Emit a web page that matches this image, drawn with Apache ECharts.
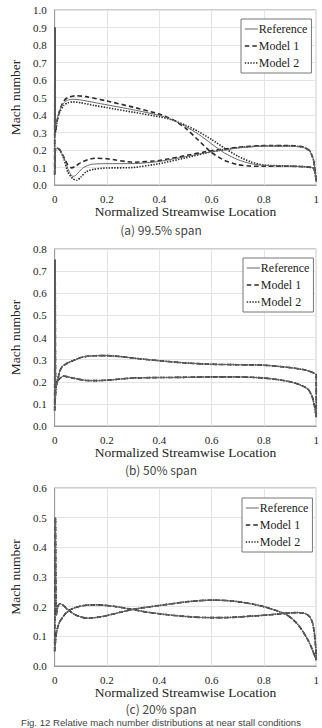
<!DOCTYPE html>
<html>
<head>
<meta charset="utf-8">
<script src="https://cdn.jsdelivr.net/npm/echarts@6/dist/echarts.min.js"></script>
<style>
html,body{margin:0;padding:0;background:#fff;}
#chart{width:322px;height:728px;}
</style>
</head>
<body>
<div id="chart"></div>
<script>
// ---------- DATA ----------
const seriesNames = ['Reference', 'Model 1', 'Model 2'];
const xTicks = [0, 0.2, 0.4, 0.6, 0.8, 1];
const captions = ['(a) 99.5% span', '(b) 50% span', '(c) 20% span'];
const figCaption = 'Fig. 12 Relative mach number distributions at near stall conditions';
const yMax = [1.0, 0.8, 0.6];

// (a) 99.5% span : suction side (LE -> TE) and pressure side (LE -> TE)
const a_ref_suction = [[0,0.06],[0.001,0.9],[0.003,0.32],[0.01,0.38],[0.02,0.43],[0.035,0.47],[0.05,0.485],[0.07,0.49],[0.1,0.486],[0.15,0.472],[0.2,0.458],[0.3,0.43],[0.4,0.398],[0.45,0.372],[0.5,0.335],[0.55,0.29],[0.6,0.235],[0.65,0.182],[0.7,0.145],[0.75,0.122],[0.8,0.112],[0.9,0.108],[0.95,0.105],[0.99,0.095],[1,0.02]];
const a_ref_pressure = [[0,0.06],[0.003,0.2],[0.01,0.21],[0.02,0.2],[0.035,0.16],[0.05,0.095],[0.065,0.052],[0.075,0.05],[0.09,0.07],[0.11,0.1],[0.14,0.118],[0.2,0.122],[0.3,0.122],[0.4,0.135],[0.5,0.162],[0.6,0.19],[0.65,0.2],[0.7,0.212],[0.8,0.222],[0.9,0.222],[0.95,0.215],[0.975,0.195],[0.99,0.14],[1,0.02]];
const a_m1_suction = [[0,0.06],[0.001,0.9],[0.003,0.3],[0.01,0.37],[0.02,0.43],[0.035,0.48],[0.05,0.5],[0.08,0.51],[0.12,0.505],[0.2,0.48],[0.3,0.445],[0.4,0.405],[0.45,0.375],[0.5,0.325],[0.55,0.255],[0.6,0.185],[0.65,0.14],[0.7,0.116],[0.75,0.108],[0.8,0.107],[0.9,0.107],[0.95,0.105],[0.99,0.095],[1,0.02]];
const a_m1_pressure = [[0,0.06],[0.003,0.2],[0.01,0.21],[0.02,0.2],[0.035,0.16],[0.05,0.115],[0.065,0.098],[0.08,0.108],[0.1,0.128],[0.13,0.147],[0.16,0.153],[0.2,0.15],[0.3,0.13],[0.4,0.14],[0.5,0.168],[0.6,0.196],[0.7,0.215],[0.8,0.225],[0.9,0.225],[0.95,0.217],[0.975,0.195],[0.99,0.14],[1,0.02]];
const a_m2_suction = [[0,0.06],[0.001,0.9],[0.003,0.3],[0.01,0.37],[0.02,0.42],[0.035,0.455],[0.05,0.47],[0.07,0.475],[0.1,0.47],[0.15,0.455],[0.2,0.442],[0.3,0.416],[0.4,0.39],[0.45,0.372],[0.5,0.342],[0.55,0.305],[0.6,0.26],[0.65,0.21],[0.7,0.165],[0.75,0.132],[0.8,0.114],[0.9,0.108],[0.95,0.105],[0.99,0.095],[1,0.02]];
const a_m2_pressure = [[0,0.06],[0.003,0.2],[0.01,0.21],[0.02,0.2],[0.035,0.15],[0.05,0.075],[0.07,0.035],[0.085,0.027],[0.1,0.045],[0.12,0.075],[0.15,0.09],[0.2,0.097],[0.3,0.1],[0.4,0.122],[0.5,0.155],[0.6,0.19],[0.7,0.213],[0.8,0.224],[0.9,0.224],[0.95,0.216],[0.975,0.195],[0.99,0.14],[1,0.02]];

// (b) 50% span (all three nearly coincide)
const b_suction = [[0,0.07],[0.002,0.75],[0.004,0.18],[0.01,0.2],[0.02,0.25],[0.03,0.27],[0.05,0.285],[0.08,0.3],[0.1,0.31],[0.14,0.317],[0.2,0.318],[0.25,0.314],[0.3,0.307],[0.4,0.295],[0.5,0.285],[0.6,0.279],[0.7,0.277],[0.8,0.275],[0.85,0.27],[0.9,0.264],[0.95,0.255],[0.98,0.245],[1,0.23]];
const b_pressure = [[0,0.07],[0.005,0.17],[0.01,0.2],[0.02,0.215],[0.035,0.226],[0.05,0.222],[0.08,0.214],[0.12,0.206],[0.16,0.205],[0.2,0.207],[0.3,0.217],[0.4,0.219],[0.5,0.22],[0.6,0.222],[0.7,0.222],[0.8,0.217],[0.85,0.21],[0.9,0.2],[0.94,0.185],[0.97,0.165],[0.985,0.13],[0.995,0.08],[1,0.04]];

// (c) 20% span (all three nearly coincide)
const c_sideA = [[0,0.05],[0.003,0.5],[0.006,0.17],[0.012,0.2],[0.02,0.21],[0.03,0.207],[0.05,0.19],[0.08,0.172],[0.11,0.163],[0.13,0.161],[0.17,0.165],[0.2,0.17],[0.25,0.181],[0.3,0.191],[0.35,0.198],[0.4,0.204],[0.45,0.21],[0.5,0.216],[0.55,0.22],[0.6,0.222],[0.65,0.221],[0.7,0.217],[0.75,0.21],[0.8,0.2],[0.85,0.186],[0.88,0.176],[0.9,0.165],[0.93,0.14],[0.95,0.115],[0.97,0.085],[0.985,0.055],[1,0.02]];
const c_sideB = [[0,0.05],[0.005,0.1],[0.01,0.125],[0.02,0.15],[0.04,0.175],[0.06,0.19],[0.09,0.2],[0.12,0.205],[0.16,0.206],[0.2,0.204],[0.25,0.198],[0.3,0.19],[0.35,0.182],[0.4,0.176],[0.45,0.171],[0.5,0.167],[0.55,0.164],[0.6,0.163],[0.65,0.163],[0.7,0.165],[0.75,0.168],[0.8,0.171],[0.85,0.175],[0.9,0.179],[0.93,0.18],[0.96,0.176],[0.975,0.166],[0.985,0.148],[0.993,0.11],[1,0.03]];

// ---------- BUILD ----------
function loop(upper, lower) { return upper.concat(lower.slice().reverse()); }
const curves = [
  [loop(a_ref_suction, a_ref_pressure), loop(a_m1_suction, a_m1_pressure), loop(a_m2_suction, a_m2_pressure)],
  [loop(b_suction, b_pressure), loop(b_suction, b_pressure), loop(b_suction, b_pressure)],
  [loop(c_sideA, c_sideB), loop(c_sideA, c_sideB), loop(c_sideA, c_sideB)]
];

const serif = 'Liberation Serif';
const grids = [
  {left: 37, top: 10, width: 281, height: 175},
  {left: 39, top: 249, width: 281, height: 177},
  {left: 38, top: 488, width: 281, height: 178}
];
const lineStyles = [
  {color: '#666', width: 1, type: 'solid'},
  {color: '#2a2a2a', width: 1.6, type: [4.5, 3]},
  {color: '#2a2a2a', width: 1.6, type: [1.4, 1.4]}
];

const option = {
  backgroundColor: '#fff',
  animation: false,
  grid: grids.map(g => Object.assign({show: true, borderColor: '#9a9a9a', borderWidth: 1, backgroundColor: 'transparent'}, g)),
  xAxis: grids.map((g, i) => ({
    gridIndex: i, type: 'value', min: 0, max: 1, interval: 0.2,
    name: 'Normalized Streamwise Location', nameLocation: 'middle', nameGap: 16,
    nameTextStyle: {fontFamily: serif, fontSize: 13.5, color: '#222'},
    axisLine: {lineStyle: {color: '#9a9a9a'}}, axisTick: {show: false},
    axisLabel: {fontFamily: serif, fontSize: 11, color: '#222', margin: 8,
      formatter: v => (v === 0 ? '0' : v === 1 ? '1' : v.toFixed(1))},
    splitLine: {show: true, lineStyle: {color: '#e4e4e4', width: 1}}
  })),
  yAxis: grids.map((g, i) => ({
    gridIndex: i, type: 'value', min: 0, max: yMax[i], interval: 0.1,
    name: 'Mach number', nameLocation: 'middle', nameGap: 27,
    nameTextStyle: {fontFamily: serif, fontSize: 13.5, color: '#222'},
    axisLine: {show: true, lineStyle: {color: '#9a9a9a'}}, axisTick: {show: false},
    axisLabel: {fontFamily: serif, fontSize: 11, color: '#222', margin: 8, formatter: v => v.toFixed(1)},
    splitLine: {show: true, lineStyle: {color: '#e4e4e4', width: 1}}
  })),
  legend: grids.map((g, i) => ({
    orient: 'vertical',
    left: g.left + 204, top: g.top + 9 + (i === 2 ? 1 : 0),
    data: seriesNames,
    itemWidth: 13, itemHeight: 8, itemGap: 3,
    padding: [3, 4, 3, 3],
    borderColor: '#777', borderWidth: 1, backgroundColor: '#fff',
    itemStyle: {opacity: 0},
    lineStyle: {width: 'inherit'},
    textStyle: {fontFamily: serif, fontSize: 12, color: '#222', padding: [0, 0, 0, -4], lineHeight: 14},
    selectedMode: false
  })),
  graphic: captions.map((c, i) => ({
    type: 'text', left: 'center', top: [223, 463, 702][i],
    style: {text: c, font: '12px "Noto Sans CJK KR"', fill: '#444'}
  })).concat([{
    type: 'text', left: 'center', top: 717,
    style: {text: figCaption, font: '9.6px "Liberation Sans"', fill: '#444'}
  }]),
  series: []
};

curves.forEach((set, gi) => {
  set.forEach((data, si) => {
    option.series.push({
      name: seriesNames[si], type: 'line', xAxisIndex: gi, yAxisIndex: gi,
      data: data, symbol: 'none', smooth: 0.2, clip: true,
      lineStyle: lineStyles[si], itemStyle: {color: lineStyles[si].color},
      z: 3 - si
    });
  });
});

const chart = echarts.init(document.getElementById('chart'), null, {renderer: 'svg'});
chart.setOption(option);
</script>
</body>
</html>
